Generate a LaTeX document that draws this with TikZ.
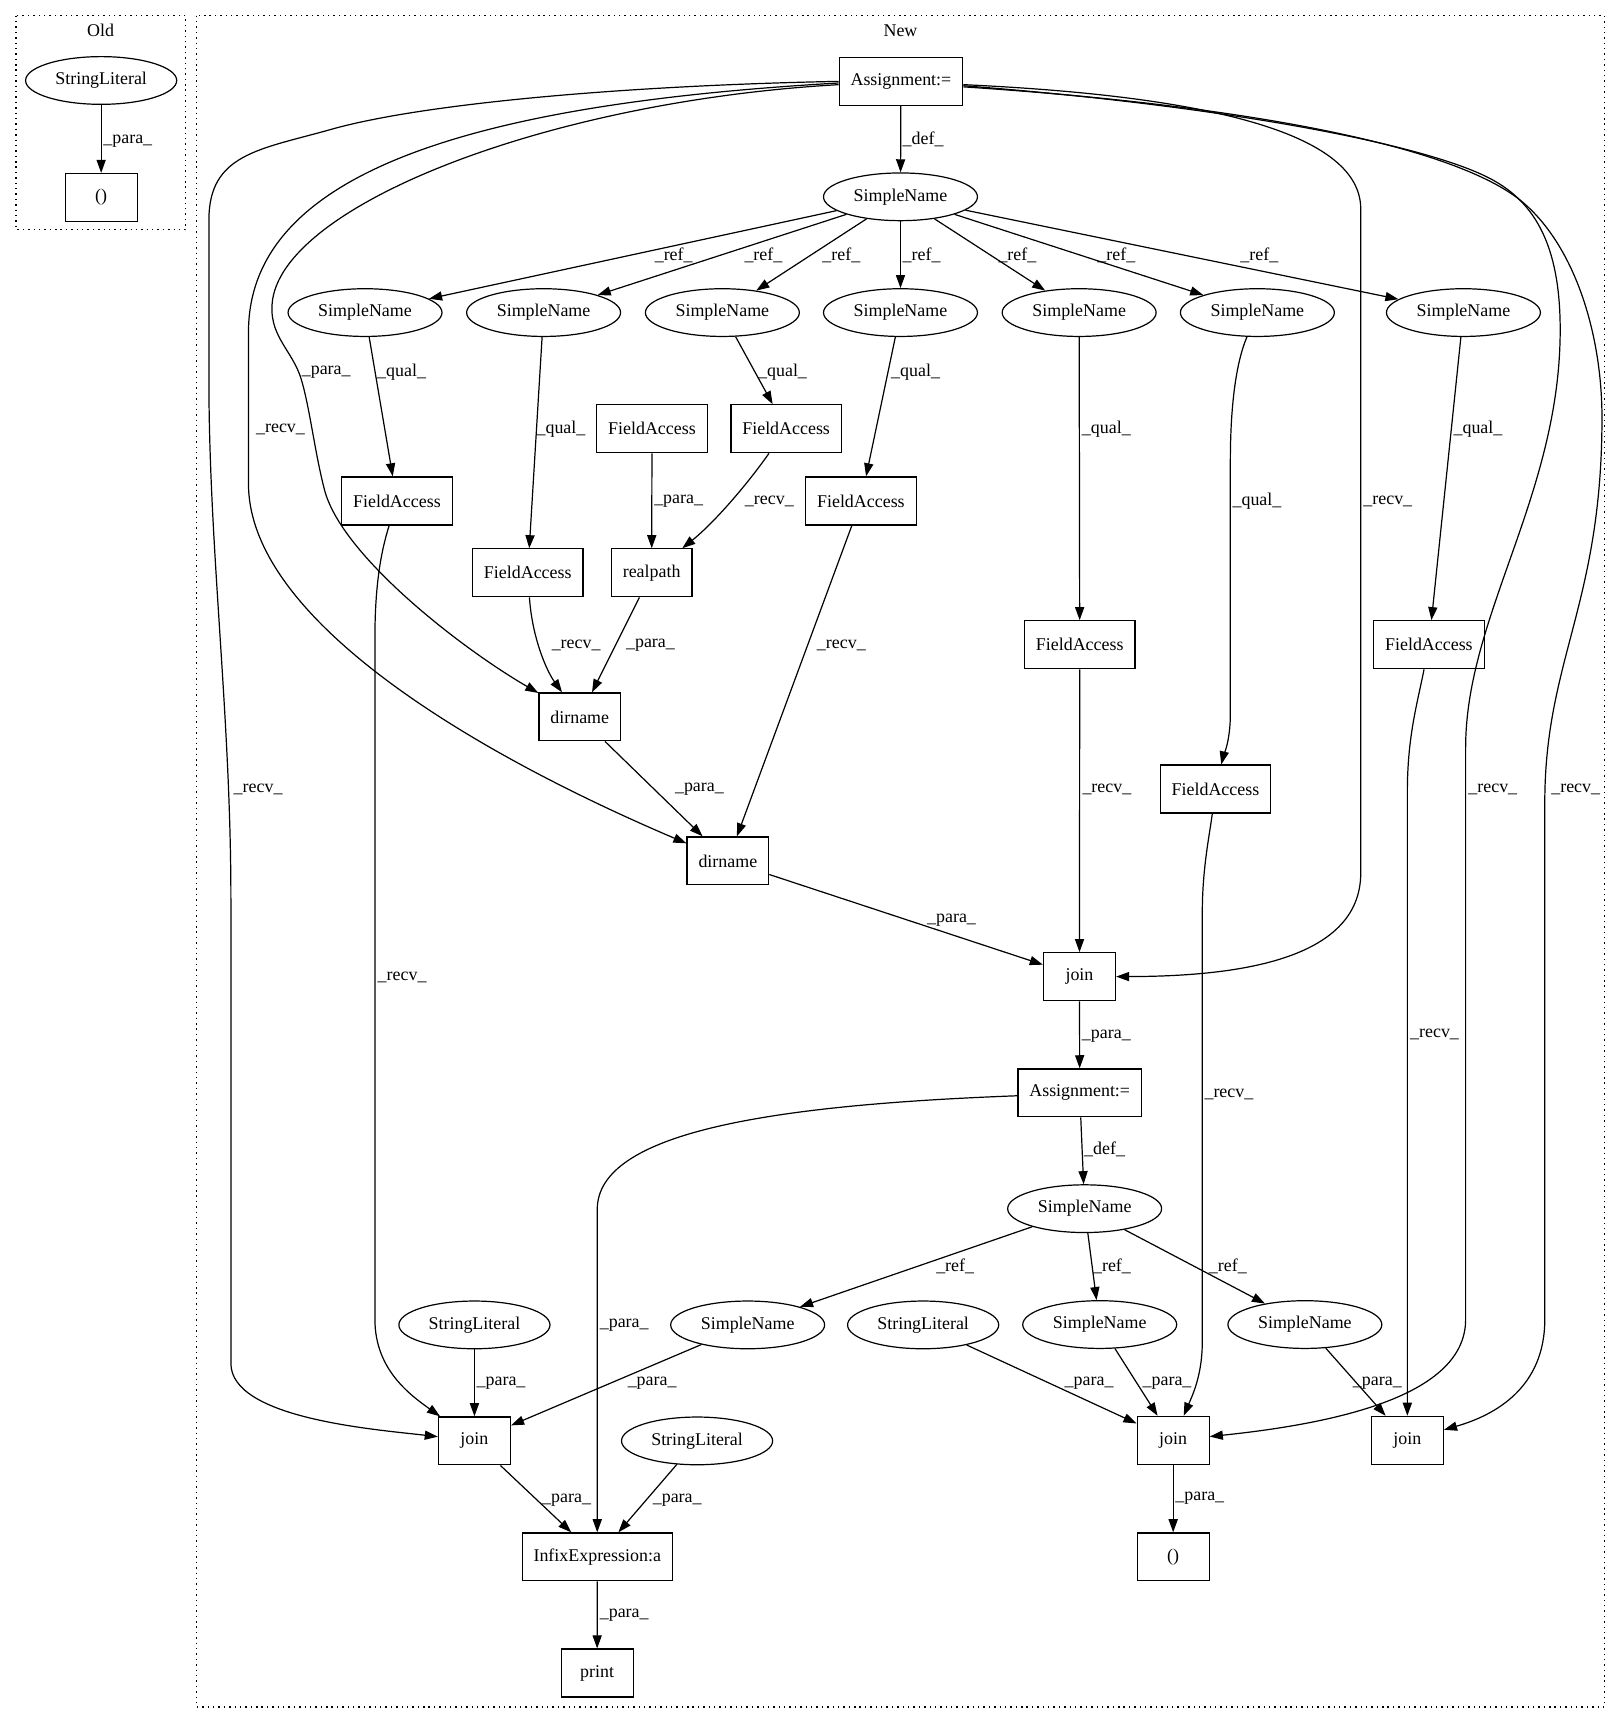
\documentclass[tikz,border=0pt]{standalone}
\usepackage{fontspec}
\setmainfont{Liberation Serif}
\usetikzlibrary{arrows.meta, shapes.geometric}
\newcommand{\elab}[1]{\_#1\_}

\begin{document}
\begin{tikzpicture}[x=1pt, y=-1pt,
    every node/.style={font=\fontsize{16.3}{19}\selectfont},
    box/.style={draw, rectangle, line width=1.1pt, minimum width=65.5pt, minimum height=43.6pt, inner xsep=10.4pt, inner ysep=2pt},
    oval/.style={draw, ellipse, line width=1.1pt, minimum height=43.4pt, inner xsep=6.95pt, inner ysep=2pt},
    edge/.style={line width=1.1pt, -{Triangle[length=11.9pt, width=8.3pt]}},
    lbl/.style={anchor=west, inner sep=0pt},
    cluster/.style={line width=1.1pt, dash pattern=on 1.3pt off 3.6pt}]
    \useasboundingbox (0,0) rectangle (1474,1568);

    % clusters
    \draw[cluster] (14.6,14.2) rectangle (168.8,209);
    \node (oldlbl) at (91.5,28) {Old};
    \draw[cluster] (178.8,14.2) rectangle (1459.5,1552.6);
    \node (newlbl) at (819,28) {New};

    % old
    \node[oval] (sl0) at (92,73.2) {StringLiteral};
    \node[box] (par0) at (92,179.6) {()};

    % new
    \node[box] (a1) at (819.4,74) {Assignment:=};
    \node[oval] (sn0) at (819,179) {SimpleName};
    \node[oval] (sn1) at (332,284.3) {SimpleName};
    \node[oval] (sn2) at (494.4,284.3) {SimpleName};
    \node[oval] (sn3) at (657,284.3) {SimpleName};
    \node[oval] (sn4) at (819,284.3) {SimpleName};
    \node[oval] (sn5) at (981.5,284.3) {SimpleName};
    \node[oval] (sn6) at (1143.6,284.3) {SimpleName};
    \node[oval] (sn7) at (1331,284.3) {SimpleName};
    \node[box] (fac) at (593,390) {FieldAccess};
    \node[box] (fad) at (715,390) {FieldAccess};
    \node[box] (faa) at (361,455.6) {FieldAccess};
    \node[box] (fae) at (783,455.6) {FieldAccess};
    \node[box] (fab) at (480,521) {FieldAccess};
    \node[box] (rp) at (592.7,521) {realpath};
    \node[box] (faf) at (982,586.4) {FieldAccess};
    \node[box] (fah) at (1299.6,586.4) {FieldAccess};
    \node[box] (dn1) at (527.3,652) {dirname};
    \node[box] (fag) at (1105.5,717.6) {FieldAccess};
    \node[box] (dn2) at (662,783) {dirname};
    \node[box] (jn1) at (981.8,888.3) {join};
    \node[box] (a2) at (982,994) {Assignment:=};
    \node[oval] (sn8) at (986.5,1099.3) {SimpleName};
    \node[oval] (sl1) at (431.5,1205) {StringLiteral};
    \node[oval] (sn9) at (680,1205) {SimpleName};
    \node[oval] (sl2) at (839.6,1205) {StringLiteral};
    \node[oval] (sn10) at (1000.2,1204.7) {SimpleName};
    \node[oval] (sn11) at (1186.8,1204.7) {SimpleName};
    \node[box] (jn2) at (431.5,1310.5) {join};
    \node[oval] (sl3) at (634,1310.5) {StringLiteral};
    \node[box] (jn3) at (1067,1310) {join};
    \node[box] (jn4) at (1280,1310) {join};
    \node[box] (ifx) at (543.2,1416) {InfixExpression:a};
    \node[box] (par1) at (1067,1416) {()};
    \node[box] (prt) at (543.1,1521.6) {print};

    % old edges
    \draw[edge] (sl0) -- (par0) node[lbl] at (93.5,128.8) {\elab{para}};

    % top part
    \draw[edge] (a1) -- (sn0) node[lbl] at (820.5,126.4) {\elab{def}};
    \draw[edge] (sn0) -- (sn1) node[lbl] at (595,231.9) {\elab{ref}};
    \draw[edge] (sn0) -- (sn2) node[lbl] at (676.6,231.9) {\elab{ref}};
    \draw[edge] (sn0) -- (sn3) node[lbl] at (747.5,231.9) {\elab{ref}};
    \draw[edge] (sn0) -- (sn4) node[lbl] at (820.5,231.9) {\elab{ref}};
    \draw[edge] (sn0) -- (sn5) node[lbl] at (907.6,231.9) {\elab{ref}};
    \draw[edge] (sn0) -- (sn6) node[lbl] at (997.6,231.9) {\elab{ref}};
    \draw[edge] (sn0) -- (sn7) node[lbl] at (1127.6,231.9) {\elab{ref}};
    \draw[edge] (sn1) -- (faa) node[lbl] at (342.5,338.6) {\elab{qual}};
    \draw[edge] (sn2) -- (fab) node[lbl] at (487.5,390.4) {\elab{qual}};
    \draw[edge] (sn3) -- (fad) node[lbl] at (689,338.6) {\elab{qual}};
    \draw[edge] (sn4) -- (fae) node[lbl] at (810,338.6) {\elab{qual}};
    \draw[edge] (sn5) -- (faf) node[lbl] at (983.5,390.4) {\elab{qual}};
    \draw[edge] (sn6) .. controls (1124,330) and (1119,370) .. (1119,420) -- (1119,650) .. controls (1119,675) and (1112,690) .. (fag) node[lbl] at (1120.5,456.2) {\elab{qual}};
    \draw[edge] (sn7) -- (fah) node[lbl] at (1321.5,390.4) {\elab{qual}};

    % realpath and dirname
    \draw[edge] (fac) -- (rp) node[lbl] at (594.5,456.2) {\elab{para}};
    \draw[edge] (fad) .. controls (680,440) and (650,475) .. (rp) node[lbl] at (677,456.2) {\elab{recv}};
    \draw[edge] (fab) .. controls (484,580) and (497,610) .. (dn1) node[lbl] at (501.3,587.2) {\elab{recv}};
    \draw[edge] (rp) -- (dn1) node[lbl] at (568.9,587.2) {\elab{para}};
    \draw[edge] ([yshift=-3pt]a1.west) .. controls (500,92) and (262,185) .. (248,272) .. controls (243,305) and (266,318) .. (274,345) .. controls (282,372) and (286,410) .. (295,445) .. controls (310,505) and (420,590) .. (dn1) node[lbl] at (274,338.6) {\elab{para}};
    \draw[edge] ([yshift=-1.5pt]a1.west) .. controls (420,95) and (228,160) .. (226,300) -- (226,440) .. controls (226,560) and (420,680) .. (dn2) node[lbl] at (232.4,390.4) {\elab{recv}};
    \draw[edge] (dn1) -- (dn2) node[lbl] at (613.4,717.7) {\elab{para}};
    \draw[edge] (fae) -- (dn2) node[lbl] at (742.5,587.2) {\elab{recv}};

    % first join
    \draw[edge] (dn2) -- (jn1) node[lbl] at (842.7,836.6) {\elab{para}};
    \draw[edge] (faf) -- (jn1) node[lbl] at (984,717.7) {\elab{recv}};
    \draw[edge] ([yshift=-3pt]a1.east) .. controls (1050,85) and (1237.6,110) .. (1237.6,190) -- (1237.6,794) .. controls (1237.6,875) and (1120,888) .. (jn1) node[lbl] at (1239.5,456.2) {\elab{recv}};
    \draw[edge] (jn1) -- (a2) node[lbl] at (983.5,942.7) {\elab{para}};
    \draw[edge] (a2) -- (sn8) node[lbl] at (985.5,1045.7) {\elab{def}};
    \draw[edge] ([yshift=-2.6pt]a2.west) .. controls (700,1005) and (543.2,1030) .. (543.2,1100) -- (ifx) node[lbl] at (545,1205) {\elab{para}};
    \draw[edge] (sn8) -- (sn9) node[lbl] at (851,1151.8) {\elab{ref}};
    \draw[edge] (sn8) -- (sn10) node[lbl] at (993.6,1151.8) {\elab{ref}};
    \draw[edge] (sn8) -- (sn11) node[lbl] at (1099,1151.8) {\elab{ref}};

    % lower joins
    \draw[edge] ([yshift=0pt]a1.west) .. controls (560,78) and (380,95) .. (300,118) .. controls (236,136) and (190,140) .. (190,200) -- (190,345) .. controls (190,500) and (210,650) .. (210,818) -- (210,1240) .. controls (210,1290) and (340,1300) .. (jn2) node[lbl] at (212,717.7) {\elab{recv}};
    \draw[edge] (faa) .. controls (347,500) and (341,530) .. (341,580) -- (341,1200) .. controls (341,1245) and (372,1268) .. (jn2) node[lbl] at (343,888.7) {\elab{recv}};
    \draw[edge] (sl1) -- (jn2) node[lbl] at (433,1258) {\elab{para}};
    \draw[edge] (sn9) -- (jn2) node[lbl] at (570.4,1258) {\elab{para}};
    \draw[edge] (sl2) -- (jn3) node[lbl] at (967.8,1258) {\elab{para}};
    \draw[edge] (sn10) -- (jn3) node[lbl] at (1038.7,1258) {\elab{para}};
    \draw[edge] (fag) .. controls (1100,760) and (1093.5,790) .. (1093.5,830) -- (1093.5,1220) .. controls (1093.5,1250) and (1085,1268) .. (jn3) node[lbl] at (1095,995) {\elab{recv}};
    \draw[edge] ([yshift=-4pt]a1.east) .. controls (1100,95) and (1300,130) .. (1360,165) .. controls (1400,188) and (1419,230) .. (1419,300) .. controls (1419,450) and (1333,560) .. (1333,680) -- (1333,1200) .. controls (1333,1262) and (1240,1292) .. (jn3) node[lbl] at (1335,717.7) {\elab{recv}};
    \draw[edge] (sn11) -- (jn4) node[lbl] at (1230,1258) {\elab{para}};
    \draw[edge] (fah) .. controls (1289,640) and (1280,670) .. (1280,720) -- (jn4) node[lbl] at (1282,941) {\elab{recv}};
    \draw[edge] ([yshift=-5pt]a1.east) .. controls (1150,97) and (1320,135) .. (1380,180) .. controls (1430,218) and (1457,300) .. (1457,380) .. controls (1457,550) and (1405,600) .. (1405,730) -- (1405,1200) .. controls (1405,1262) and (1360,1287) .. (jn4) node[lbl] at (1410.4,717.7) {\elab{recv}};

    % bottom
    \draw[edge] (jn2) -- (ifx) node[lbl] at (492.6,1364) {\elab{para}};
    \draw[edge] (sl3) -- (ifx) node[lbl] at (593.2,1364) {\elab{para}};
    \draw[edge] (ifx) -- (prt) node[lbl] at (545,1468.6) {\elab{para}};
    \draw[edge] (jn3) -- (par1) node[lbl] at (1068.5,1363) {\elab{para}};
\end{tikzpicture}
\end{document}
